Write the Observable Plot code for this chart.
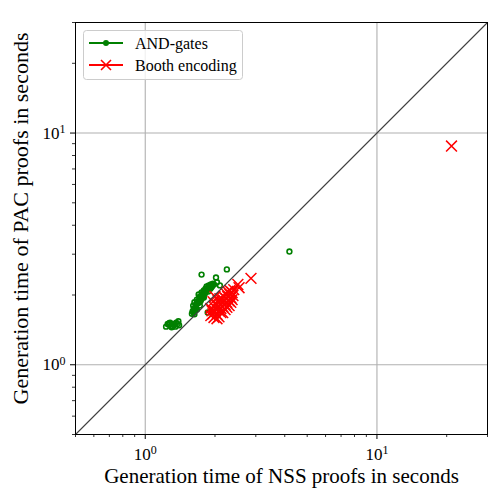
<!DOCTYPE html>
<html>
<head>
<meta charset="utf-8">
<script src="https://cdn.jsdelivr.net/npm/d3@7"></script>
<script src="https://cdn.jsdelivr.net/npm/@observablehq/plot@0.6"></script>
<style>
  html, body { margin: 0; padding: 0; background: white; }
  #wrap { position: relative; width: 499px; height: 491px; }
  #legend { position: absolute; left: 0; top: 0; pointer-events: none; }
</style>
</head>
<body>
<div id="wrap"></div>
<script>
// ---- data ----
const xLabel = "Generation time of NSS proofs in seconds";
const yLabel = "Generation time of PAC proofs in seconds";
const seriesNames = ["AND-gates", "Booth encoding"];
const axisDomain = [0.5, 30];
const majorTicks = [1, 10];
const minorTicks = [0.5, 0.6, 0.7, 0.8, 0.9, 2, 3, 4, 5, 6, 7, 8, 9, 20, 30];

const andX = [1.26, 1.28, 1.31, 1.34, 1.36, 1.39, 1.30, 1.35, 1.40, 1.23,
  1.27, 1.33, 1.38, 1.29, 1.25,
  1.60, 1.62, 1.65, 1.63, 1.67, 1.68, 1.72, 1.74, 1.70, 1.75,
  1.79, 1.81, 1.82, 1.84, 1.86, 1.88, 1.90, 1.92, 1.94, 1.96,
  1.98, 1.77, 1.67, 1.72, 1.59, 1.63, 1.74, 1.79,
  1.61, 1.64, 1.66, 1.69, 1.71, 1.73, 1.76, 1.78, 1.80, 1.83,
  1.85, 1.87, 1.89, 1.91, 1.93, 1.95, 1.62, 1.66, 1.70, 1.76,
  1.75, 2.25, 2.02, 2.10, 2.04, 1.86, 4.19];
const andY = [1.49, 1.52, 1.46, 1.50, 1.52, 1.54, 1.45, 1.46, 1.48, 1.46,
  1.51, 1.48, 1.50, 1.47, 1.50,
  1.70, 1.75, 1.78, 1.86, 1.91, 1.84, 1.93, 1.97, 2.01, 2.05,
  2.09, 2.03, 2.13, 2.18, 2.11, 2.20, 2.15, 2.22, 2.18, 2.24,
  2.22, 1.99, 1.73, 1.80, 1.66, 1.65, 1.91, 1.95,
  1.80, 1.72, 1.83, 1.88, 1.96, 1.88, 2.02, 1.96, 2.06, 2.07,
  2.14, 2.07, 2.19, 2.13, 2.16, 2.20, 1.68, 1.76, 1.85, 1.94,
  2.45, 2.58, 2.38, 2.20, 2.27, 1.68, 3.08];

const boothX = [1.92, 1.96, 1.94, 1.98, 2.00, 2.02, 2.04, 2.06, 2.08, 2.10,
  2.12, 2.14, 2.16, 2.18, 2.21, 2.23, 2.25, 2.27, 2.30, 2.32,
  2.34, 2.37, 2.39, 2.02, 2.06, 2.10, 1.98, 2.16, 2.21, 2.25,
  2.30, 2.08, 2.12, 2.18, 2.23, 2.27, 2.32, 2.41, 1.92, 1.96,
  2.14, 2.04, 2.34, 2.00, 2.37, 2.51, 2.54, 2.86, 20.98];
const boothY = [1.63, 1.66, 1.71, 1.60, 1.70, 1.75, 1.65, 1.78, 1.71, 1.82,
  1.75, 1.86, 1.78, 1.89, 1.82, 1.93, 1.86, 1.97, 1.89, 2.01,
  1.95, 2.05, 1.99, 1.84, 1.89, 1.93, 1.78, 1.68, 1.73, 1.77,
  1.80, 1.61, 1.68, 1.97, 2.03, 2.07, 2.09, 2.11, 1.75, 1.87,
  1.93, 1.58, 1.86, 1.97, 1.91, 2.22, 2.15, 2.36, 8.79];

// ---- build ----
const andData = andX.map((x, i) => ({x, y: andY[i]}));
const boothData = boothX.map((x, i) => ({x, y: boothY[i]}));
const diag = axisDomain.map(v => ({x: v, y: v}));

const FONT = "'Liberation Serif', 'Times New Roman', serif";
const GREEN = "#008000", RED = "#ff0000";

const expFmt = d => "10^" + Math.round(Math.log10(d));
const noLabel = () => "";

const chart = Plot.plot({
  width: 499,
  height: 491,
  marginLeft: 75,
  marginRight: 12,
  marginTop: 22,
  marginBottom: 57,
  style: {fontFamily: FONT, fontSize: "16px", background: "white", color: "black"},
  x: {type: "log", domain: axisDomain},
  y: {type: "log", domain: axisDomain},
  marks: [
    Plot.gridX(majorTicks, {stroke: "#b0b0b0", strokeOpacity: 1, strokeWidth: 1.1}),
    Plot.gridY(majorTicks, {stroke: "#b0b0b0", strokeOpacity: 1, strokeWidth: 1.1}),
    Plot.dot(andData, {x: "x", y: "y", r: 2.4, stroke: GREEN, strokeWidth: 1.6, fill: "none"}),
    Plot.dot(boothData, {x: "x", y: "y", symbol: "times", r: 5, stroke: RED, strokeWidth: 1.5}),
    Plot.line(diag, {x: "x", y: "y", stroke: "#404040", strokeWidth: 1.1}),
    Plot.axisX({ticks: minorTicks, tickSize: 3, tickFormat: noLabel, label: null, strokeWidth: 0.8}),
    Plot.axisY({ticks: minorTicks, tickSize: 3, tickFormat: noLabel, label: null, strokeWidth: 0.8}),
    Plot.axisX({ticks: majorTicks, tickSize: 5, tickPadding: 8, tickFormat: expFmt, label: null, fontSize: 17, strokeWidth: 1}),
    Plot.axisY({ticks: majorTicks, tickSize: 5, tickPadding: 5, tickFormat: expFmt, label: null, fontSize: 17, strokeWidth: 1}),
    Plot.frame({stroke: "black", strokeWidth: 1}),
    Plot.text([xLabel], {frameAnchor: "bottom", dy: 42, fontSize: 21, text: d => d, textAnchor: "middle", lineAnchor: "middle"}),
    Plot.text([yLabel], {frameAnchor: "left", dx: -55, dy: -10, fontSize: 22, text: d => d, rotate: -90, textAnchor: "middle", lineAnchor: "middle"})
  ]
});

// superscript exponents in tick labels
d3.select(chart).selectAll("text").each(function() {
  const t = this.textContent;
  const m = /^10\^(-?\d+)$/.exec(t);
  if (!m) return;
  const sel = d3.select(this);
  sel.text(null);
  sel.append("tspan").text("10");
  sel.append("tspan").attr("dy", "-0.45em").attr("font-size", "12px").text(m[1]);
});

const wrap = document.getElementById("wrap");
wrap.appendChild(chart);

// legend (inside axes, upper left)
const leg = d3.create("svg").attr("id", "legend").attr("width", 499).attr("height", 491)
  .style("font-family", FONT);
leg.append("rect").attr("x", 83.5).attr("y", 30.5).attr("width", 159).attr("height", 49)
  .attr("rx", 3).attr("fill", "white").attr("fill-opacity", 0.8).attr("stroke", "#cccccc");
const rows = [
  {name: seriesNames[0], color: GREEN, y: 43, sym: "dot"},
  {name: seriesNames[1], color: RED, y: 65, sym: "x"}
];
for (const r of rows) {
  leg.append("line").attr("x1", 89).attr("x2", 123).attr("y1", r.y).attr("y2", r.y)
    .attr("stroke", r.color).attr("stroke-width", 2);
  if (r.sym === "dot") {
    leg.append("circle").attr("cx", 106).attr("cy", r.y).attr("r", 3).attr("fill", r.color);
  } else {
    leg.append("path").attr("d", `M${106-5},${r.y-5}L${106+5},${r.y+5}M${106-5},${r.y+5}L${106+5},${r.y-5}`)
      .attr("stroke", r.color).attr("stroke-width", 1.6);
  }
  leg.append("text").attr("x", 135).attr("y", r.y + 5.5).attr("font-size", 16).text(r.name);
}
wrap.appendChild(leg.node());
</script>
</body>
</html>
